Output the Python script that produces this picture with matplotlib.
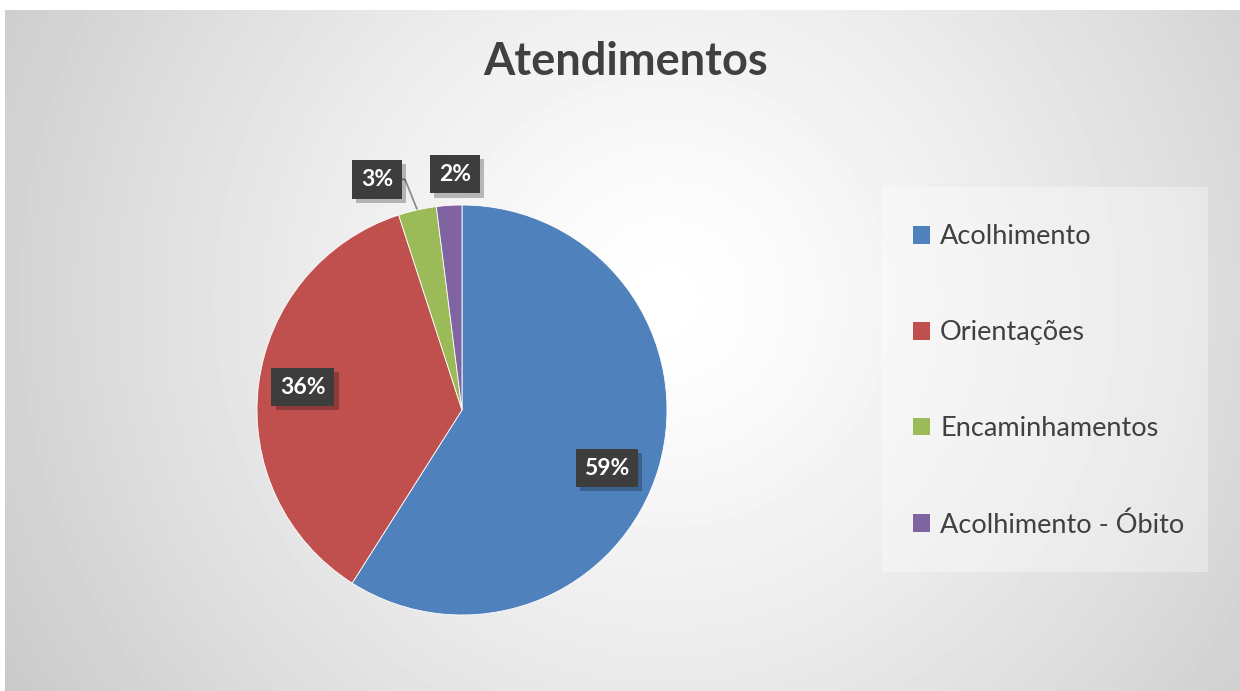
import numpy as np
import matplotlib
matplotlib.use('Agg')
import matplotlib.pyplot as plt
from matplotlib.patches import Rectangle
from matplotlib import patheffects as pe

categories = ['Acolhimento', 'Orientações', 'Encaminhamentos', 'Acolhimento - Óbito']
values = [59, 36, 3, 2]
colors = ['#4F81BD', '#C0504D', '#9BBB59', '#8064A2']
title = 'Atendimentos'

W, H = 1240, 691
plt.rcParams['font.family'] = ['Lato', 'DejaVu Sans']
fig = plt.figure(figsize=(W / 100, H / 100), dpi=100)
fig.patch.set_facecolor('white')

# background radial gradient
bg = fig.add_axes([5 / W, 0, 1 - 5 / W, (H - 10) / H])
ny, nx = H - 10, W - 5
yy, xx = np.mgrid[0:ny, 0:nx]
cx, cy = 660, 290
d = np.hypot(xx - cx, yy - cy)
d = d / d.max()
g = 1 - 0.21 * d ** 1.3
bg.imshow(g, cmap='gray', vmin=0, vmax=1, aspect='auto', extent=(0, 1, 0, 1),
          interpolation='bilinear')
bg.set_axis_off()

# pie
R = 205
pcx, pcy = 462, 410
ax = fig.add_axes([(pcx - R) / W, (H - pcy - R) / H, 2 * R / W, 2 * R / H])
wedges, texts, autotexts = ax.pie(
    values, colors=colors, startangle=90, counterclock=False,
    autopct='%1.0f%%', pctdistance=0.77,
    wedgeprops=dict(edgecolor='white', linewidth=0.6))
ax.set_xlim(-1, 1)
ax.set_ylim(-1, 1)
ax.set_axis_off()

label_pos = [(0.707, -0.283), (-0.776, 0.112), (-0.415, 1.125), (-0.034, 1.15)]
for t, p in zip(autotexts, label_pos):
    t.set_position(p)
    t.set_color('white')
    t.set_fontweight('bold')
    t.set_fontsize(16.5)
    t.set_ha('center')
    t.set_va('center')
    t.set_bbox(dict(boxstyle='square,pad=0.38', facecolor='#3d3d3d',
                    edgecolor='none', linewidth=0))
    t.get_bbox_patch().set_path_effects([
        pe.SimplePatchShadow(offset=(3, -3), shadow_rgbFace='black', alpha=0.25),
        pe.Normal()])

# leader line for small green slice
w = wedges[2]
mid = np.deg2rad((w.theta1 + w.theta2) / 2)
ex, ey = np.cos(mid), np.sin(mid)
lx, ly = autotexts[2].get_position()
ax.plot([lx + 0.12, lx + 0.137, ex], [ly, ly, ey], color='#8c8c8c', lw=1.3,
        clip_on=False, zorder=0.5)

# legend box
fig.patches.append(Rectangle((882 / W, (H - 572) / H), 326 / W, 385 / H,
                             transform=fig.transFigure, facecolor='white',
                             alpha=0.35, edgecolor='none', zorder=1))
leg = fig.legend(wedges, categories, loc='center left',
                 bbox_to_anchor=(913 / W, (H - 381) / H), frameon=False,
                 fontsize=19.5, handlelength=0.62, handleheight=0.62,
                 handletextpad=0.38, labelspacing=2.62, labelcolor='#404040',
                 borderpad=0, borderaxespad=0)
for h in leg.legend_handles:
    h.set_edgecolor('none')

fig.text(626 / W, 1 - 62 / H, title, ha='center', va='center', fontsize=32.5,
         fontweight='bold', color='#404040')

fig.savefig('out.png', dpi=100)
